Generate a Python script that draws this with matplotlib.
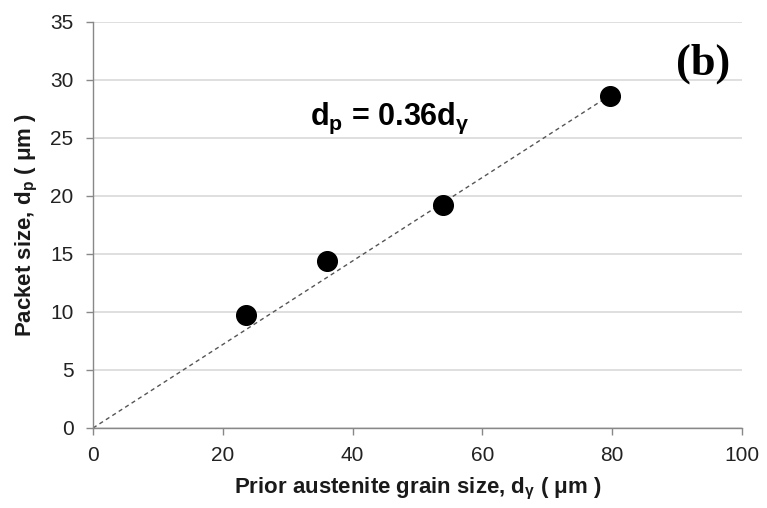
import matplotlib
matplotlib.use("Agg")
import matplotlib.pyplot as plt
import numpy as np

plt.rcParams['font.family'] = ['Liberation Sans', 'DejaVu Sans']
plt.rcParams['mathtext.default'] = 'regular'

# data
grain_size = [23.5, 36.0, 54.0, 79.6]
packet_size = [9.7, 14.4, 19.2, 28.6]
slope = 0.36
fit_x = [0, 79.6]
x_ticks = [0, 20, 40, 60, 80, 100]
y_ticks = [0, 5, 10, 15, 20, 25, 30, 35]

fig = plt.figure(figsize=(7.67, 5.08), dpi=100)
ax = fig.add_axes([0.1213, 0.1575, 0.9674 - 0.1213, 0.9567 - 0.1575])

ax.set_xlim(0, 100)
ax.set_ylim(0, 35)
ax.set_xticks(x_ticks)
ax.set_yticks(y_ticks)

ax.yaxis.grid(True, color='#d9d9d9', linewidth=1.2)
ax.set_axisbelow(True)

fit_y = [slope * v for v in fit_x]
ax.plot(fit_x, fit_y, linestyle=(0, (3, 2.5)), color='#555555', linewidth=1.0, zorder=2)
ax.scatter(grain_size, packet_size, s=200, color='black', zorder=3)

for s in ['top', 'right']:
    ax.spines[s].set_visible(False)
for s in ['left', 'bottom']:
    ax.spines[s].set_color('#888888')
    ax.spines[s].set_linewidth(1.0)

ax.tick_params(axis='both', which='major', direction='out', length=5, width=1.0,
               color='#888888', labelsize=15, labelcolor='#222222')
ax.tick_params(axis='y', pad=9)
ax.tick_params(axis='x', pad=8)

ax.set_xlabel(r'Prior austenite grain size, d$_{\gamma}$ ( μm )', fontsize=16,
              fontweight='bold', color='#1a1a1a', labelpad=8)
ax.set_ylabel(r'Packet size, d$_{p}$ ( μm )', fontsize=16, fontweight='bold',
              color='#1a1a1a', labelpad=7)

ax.text(33.5, 26.7, r'd$_{p}$ = 0.36d$_{\gamma}$', fontsize=22, fontweight='bold',
        color='black', ha='left', va='center')
ax.text(98.2, 31.4, '(b)', fontsize=32, fontweight='bold', family='Liberation Serif',
        ha='right', va='center', color='black')

fig.savefig('out.png', dpi=100)
